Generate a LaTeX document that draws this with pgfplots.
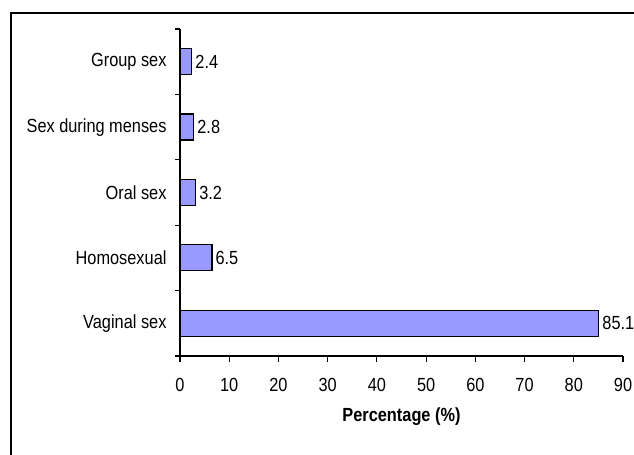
\documentclass[border=0pt]{standalone}
\usepackage{pgfplots}
\pgfplotsset{compat=1.18}
\usepackage{fontspec}
\setmainfont{Liberation Sans}[FakeStretch=0.86]
\definecolor{barblue}{HTML}{9999FF}
\begin{document}
\begin{tikzpicture}[x=1bp,y=1bp]
\useasboundingbox (0,0) rectangle (634,455);
\draw[line width=1.3bp] (11,-5) -- (11,442) -- (640,442);
\begin{axis}[
  at={(180bp,99bp)}, anchor=south west,
  scale only axis, width=443bp, height=327bp,
  xmin=0, xmax=90, ymin=-0.5, ymax=4.5,
  xbar, bar width=26bp,
  axis x line*=bottom, axis y line*=left,
  axis line style={line width=1.2bp, black},
  xtick={0,10,...,90},
  ytick={0,1,2,3,4},
  yticklabels={Vaginal sex,Homosexual,Oral sex,Sex during menses,Group sex},
  minor ytick={-0.5,0.5,1.5,2.5,3.5,4.5},
  major y tick style={draw=none},
  tick align=outside,
  major tick length=6bp, minor tick length=5bp,
  every tick/.style={black, line width=1.2bp},
  minor tick style={black, line width=1.2bp},
  /pgf/number format/assume math mode=true,
  tick label style={font=\fontsize{19bp}{22bp}\selectfont},
  x tick label style={yshift=-13bp},
  y tick label style={xshift=-4bp},
  xlabel={Percentage (\%)},
  xlabel style={font=\bfseries\fontsize{19bp}{22bp}\selectfont, yshift=-9bp},
  nodes near coords,
  nodes near coords style={font=\fontsize{19bp}{22bp}\selectfont, anchor=west, inner sep=2bp, xshift=1bp},
  point meta=explicit symbolic,
]
\addplot[fill=barblue, draw=black, line width=1.2bp] coordinates {
  (85.1,0) [85.1]
  (6.5,1) [6.5]
  (3.2,2) [3.2]
  (2.8,3) [2.8]
  (2.4,4) [2.4]
};
\end{axis}
\end{tikzpicture}
\end{document}
